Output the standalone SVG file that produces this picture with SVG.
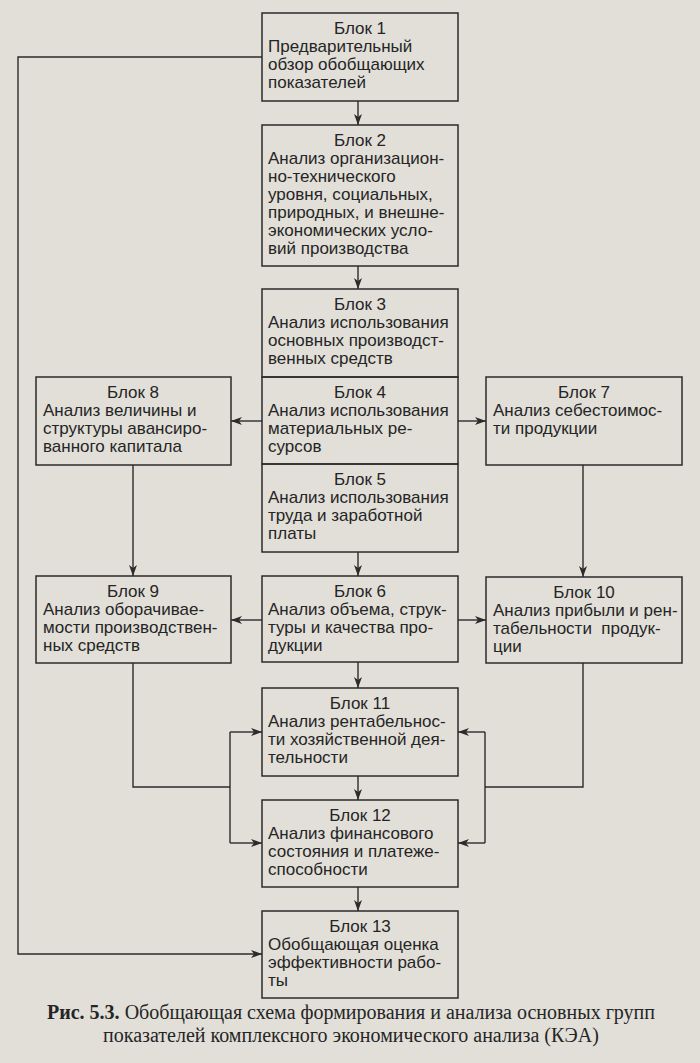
<svg xmlns="http://www.w3.org/2000/svg" width="700" height="1063" viewBox="0 0 700 1063">
<defs>
<marker id="ah" markerWidth="11" markerHeight="8" refX="11" refY="4" orient="auto" markerUnits="userSpaceOnUse">
<path d="M0,0 L11,4 L0,8 L3,4 Z" fill="#2b2b2b"/>
</marker>
<style>
.box{fill:none;stroke:#2b2b2b;stroke-width:1.5}
.t{font-family:"Liberation Sans",Arial,sans-serif;font-size:17px;fill:#252525}
.h{text-anchor:middle}
.c{fill:none;stroke:#2b2b2b;stroke-width:1.4}
.cap{font-family:"Liberation Serif","Times New Roman",serif;font-size:20px;fill:#252525;text-anchor:middle}
</style>
</defs>
<rect x="0" y="0" width="700" height="1063" fill="#e1dfd8"/>
<g id="connectors">
<path class="c" d="M358,101 V125" marker-end="url(#ah)"/>
<path class="c" d="M358,266 V289" marker-end="url(#ah)"/>
<path class="c" d="M358,552 V576" marker-end="url(#ah)"/>
<path class="c" d="M358,662 V688" marker-end="url(#ah)"/>
<path class="c" d="M358,776 V800" marker-end="url(#ah)"/>
<path class="c" d="M358,887 V911" marker-end="url(#ah)"/>
<path class="c" d="M262,421 H231" marker-end="url(#ah)"/>
<path class="c" d="M458,421 H486" marker-end="url(#ah)"/>
<path class="c" d="M133,465 V576" marker-end="url(#ah)"/>
<path class="c" d="M583,465 V577" marker-end="url(#ah)"/>
<path class="c" d="M262,620 H231" marker-end="url(#ah)"/>
<path class="c" d="M458,620 H486" marker-end="url(#ah)"/>
<path class="c" d="M133,663 V787 H230"/>
<path class="c" d="M230,732 V843"/>
<path class="c" d="M230,732 H262" marker-end="url(#ah)"/>
<path class="c" d="M230,843 H262" marker-end="url(#ah)"/>
<path class="c" d="M583,663 V787 H485"/>
<path class="c" d="M485,732 V843"/>
<path class="c" d="M485,732 H458" marker-end="url(#ah)"/>
<path class="c" d="M485,843 H458" marker-end="url(#ah)"/>
<path class="c" d="M262,57 H18 V954 H262" marker-end="url(#ah)"/>
</g>
<g id="block1">
<rect class="box" x="262" y="13" width="196" height="88"/>
<text class="t h" x="360" y="34">Блок 1</text>
<text class="t" x="268" y="52">Предварительный</text>
<text class="t" x="268" y="70">обзор обобщающих</text>
<text class="t" x="268" y="88">показателей</text>
</g>
<g id="block2">
<rect class="box" x="262" y="125" width="196" height="141"/>
<text class="t h" x="360" y="146">Блок 2</text>
<text class="t" x="268" y="164">Анализ организацион-</text>
<text class="t" x="268" y="182">но-технического</text>
<text class="t" x="268" y="200">уровня, социальных,</text>
<text class="t" x="268" y="218">природных, и внешне-</text>
<text class="t" x="268" y="236">экономических усло-</text>
<text class="t" x="268" y="254">вий производства</text>
</g>
<g id="block3">
<rect class="box" x="262" y="289" width="196" height="88"/>
<text class="t h" x="360" y="310">Блок 3</text>
<text class="t" x="268" y="328">Анализ использования</text>
<text class="t" x="268" y="346">основных производст-</text>
<text class="t" x="268" y="364">венных средств</text>
</g>
<g id="block4">
<rect class="box" x="262" y="377" width="196" height="87"/>
<text class="t h" x="360" y="398">Блок 4</text>
<text class="t" x="268" y="416">Анализ использования</text>
<text class="t" x="268" y="434">материальных ре-</text>
<text class="t" x="268" y="452">сурсов</text>
</g>
<g id="block5">
<rect class="box" x="262" y="464" width="196" height="88"/>
<text class="t h" x="360" y="485">Блок 5</text>
<text class="t" x="268" y="503">Анализ использования</text>
<text class="t" x="268" y="521">труда и заработной</text>
<text class="t" x="268" y="539">платы</text>
</g>
<g id="block6">
<rect class="box" x="262" y="576" width="196" height="86"/>
<text class="t h" x="360" y="597">Блок 6</text>
<text class="t" x="268" y="615">Анализ объема, струк-</text>
<text class="t" x="268" y="633">туры и качества про-</text>
<text class="t" x="268" y="651">дукции</text>
</g>
<g id="block7">
<rect class="box" x="486" y="377" width="196" height="88"/>
<text class="t h" x="584" y="398">Блок 7</text>
<text class="t" x="493" y="416">Анализ себестоимос-</text>
<text class="t" x="493" y="434">ти продукции</text>
</g>
<g id="block8">
<rect class="box" x="36" y="377" width="195" height="88"/>
<text class="t h" x="133" y="398">Блок 8</text>
<text class="t" x="43" y="416">Анализ величины и</text>
<text class="t" x="43" y="434">структуры авансиро-</text>
<text class="t" x="43" y="452">ванного капитала</text>
</g>
<g id="block9">
<rect class="box" x="36" y="576" width="195" height="87"/>
<text class="t h" x="133" y="597">Блок 9</text>
<text class="t" x="43" y="615">Анализ оборачивае-</text>
<text class="t" x="43" y="633">мости производствен-</text>
<text class="t" x="43" y="651">ных средств</text>
</g>
<g id="block10">
<rect class="box" x="486" y="577" width="196" height="86"/>
<text class="t h" x="584" y="598">Блок 10</text>
<text class="t" x="493" y="616">Анализ прибыли и рен-</text>
<text class="t" x="493" y="634" xml:space="preserve">табельности  продук-</text>
<text class="t" x="493" y="652">ции</text>
</g>
<g id="block11">
<rect class="box" x="262" y="688" width="196" height="88"/>
<text class="t h" x="360" y="709">Блок 11</text>
<text class="t" x="268" y="727">Анализ рентабельнос-</text>
<text class="t" x="268" y="745">ти хозяйственной дея-</text>
<text class="t" x="268" y="763">тельности</text>
</g>
<g id="block12">
<rect class="box" x="262" y="800" width="196" height="87"/>
<text class="t h" x="360" y="821">Блок 12</text>
<text class="t" x="268" y="839">Анализ финансового</text>
<text class="t" x="268" y="857">состояния и платеже-</text>
<text class="t" x="268" y="875">способности</text>
</g>
<g id="block13">
<rect class="box" x="262" y="911" width="196" height="87"/>
<text class="t h" x="360" y="932">Блок 13</text>
<text class="t" x="268" y="950">Обобщающая оценка</text>
<text class="t" x="268" y="968">эффективности рабо-</text>
<text class="t" x="268" y="986">ты</text>
</g>
<g id="caption">
<text class="cap" x="351" y="1019"><tspan font-weight="bold">Рис. 5.3.</tspan> Обобщающая схема формирования и анализа основных групп</text>
<text class="cap" x="351" y="1042">показателей комплексного экономического анализа (КЭА)</text>
</g>
</svg>
